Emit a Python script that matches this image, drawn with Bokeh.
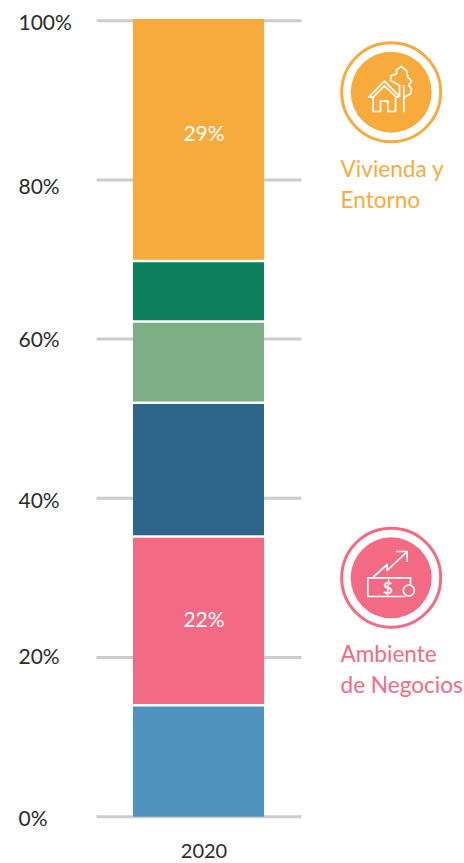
from bokeh.plotting import figure
from bokeh.embed import file_html
from bokeh.resources import INLINE
from bokeh.core.properties import value

year = 2020
segments = [14.0, 21.2, 16.8, 10.2, 7.6, 30.4]
colors = ["#5193c0", "#f36a84", "#2e668b", "#7dae85", "#0e7f5c", "#f8ab3d"]
seg_labels = ["", "22%", "", "", "", "29%"]
ticks = [0, 20, 40, 60, 80, 100]
tick_labels = ["0%", "20%", "40%", "60%", "80%", "100%"]
tick_nudge = [1, -2, 1, -1, 6, 1]

W, H = 464, 863
PX_Y = 7.96
PX_X = 131.0
ZERO_Y = 816.2
CX = 198.0

x0 = year - CX / PX_X
y_end = ZERO_Y / PX_Y


def X(page_x):
    return x0 + page_x / PX_X


def Y(page_y):
    return y_end - page_y / PX_Y


p = figure(width=W, height=H, output_backend="svg", toolbar_location=None,
           x_range=(x0, x0 + W / PX_X), y_range=(y_end - H / PX_Y, y_end),
           min_border=0, outline_line_color=None)
p.axis.visible = False
p.grid.visible = False
p.background_fill_color = "white"
p.border_fill_color = "white"

# grid lines
p.segment(x0=[X(96)] * len(ticks), x1=[X(301)] * len(ticks), y0=ticks, y1=ticks,
          line_color="#cccccc", line_width=3)

# stacked bar
bottoms, tops, acc = [], [], 0.0
for s in segments:
    bottoms.append(acc)
    acc += s
    tops.append(acc)
p.vbar(x=[year] * len(segments), width=1.0, bottom=bottoms, top=tops,
       fill_color=colors, line_color=None)
p.segment(x0=[year - 0.5] * 5, x1=[year + 0.5] * 5, y0=tops[:-1], y1=tops[:-1],
          line_color="white", line_width=2.5)

# value labels
for b, t, lab in zip(bottoms, tops, seg_labels):
    if lab:
        p.text([year], [(b + t) / 2 if lab == "22%" else 85.75], text=[lab], text_color="white",
               text_font=value("Lato"), text_font_size="21px", text_align="center",
               text_baseline="middle", x_offset=5.5, y_offset=-2)

# tick labels
p.text([X(18)] * len(ticks), ticks, text=tick_labels, text_color="#2b2b2b",
       text_font=value("Lato"), text_font_size="21px", text_align="left",
       text_baseline="middle", y_offset=tick_nudge)

# category label
p.text([year], [Y(850.5)], text=[str(year)], text_color="#2b2b2b", text_font=value("Lato"),
       text_font_size="20px", text_align="center", text_baseline="middle", x_offset=5.5)


def icon_base(cy, color):
    cx = 390.7
    p.scatter([X(cx)], [Y(cy)], size=99, marker="circle", fill_color=None,
              line_color=color, line_width=3)
    p.scatter([X(cx)], [Y(cy)], size=81, marker="circle", fill_color=color, line_color=None)


def zline(pts, oy, w=1.7):
    xs = [X(330 + a / 3) for a, b in pts]
    ys = [Y(oy + b / 3) for a, b in pts]
    p.line(xs, ys, line_color="white", line_width=w, line_join="round", line_cap="round")


ORANGE, PINK = colors[5], colors[1]
icon_base(91.7, ORANGE)
# house
zline([(115, 200), (162, 152), (207, 198), (197, 200), (162, 166), (128, 200), (115, 200)], 30)
zline([(128, 200), (128, 243), (150, 243), (150, 212), (172, 212), (172, 243), (195, 243), (195, 205)], 30)
# tree
zline([(220, 243), (220, 165)], 30)
zline([(222, 200), (240, 190), (243, 175), (234, 165), (243, 152), (232, 140), (228, 120),
       (212, 108), (198, 118), (198, 130), (182, 135), (180, 150), (195, 158), (207, 165), (207, 195)], 30)

icon_base(577.3, PINK)
zline([(240, 172), (112, 172), (112, 228), (222, 228)], 520)
zline([(240, 172), (240, 192)], 520)
zline([(130, 168), (170, 132), (170, 150), (226, 97)], 520)
zline([(198, 93), (230, 93), (230, 122)], 520)
p.scatter([X(330 + 235 / 3)], [Y(520 + 210 / 3)], size=11, marker="circle",
          fill_color=None, line_color="white", line_width=1.7)
p.text([X(330 + 172 / 3)], [Y(520 + 200 / 3)], text=["$"], text_color="white",
       text_font=value("Lato"), text_font_style="bold", text_font_size="17px",
       text_align="center", text_baseline="middle")

# category names
for txt, ypx, col in [("Vivienda y", 168, ORANGE), ("Entorno", 199, ORANGE),
                      ("Ambiente", 653, PINK), ("de Negocios", 684, PINK)]:
    p.text([X(340)], [Y(ypx)], text=[txt], text_color=col, text_font=value("Lato"),
           text_font_size="22.6px", text_align="left", text_baseline="middle")

open("out.html", "w").write(file_html(p, INLINE))
